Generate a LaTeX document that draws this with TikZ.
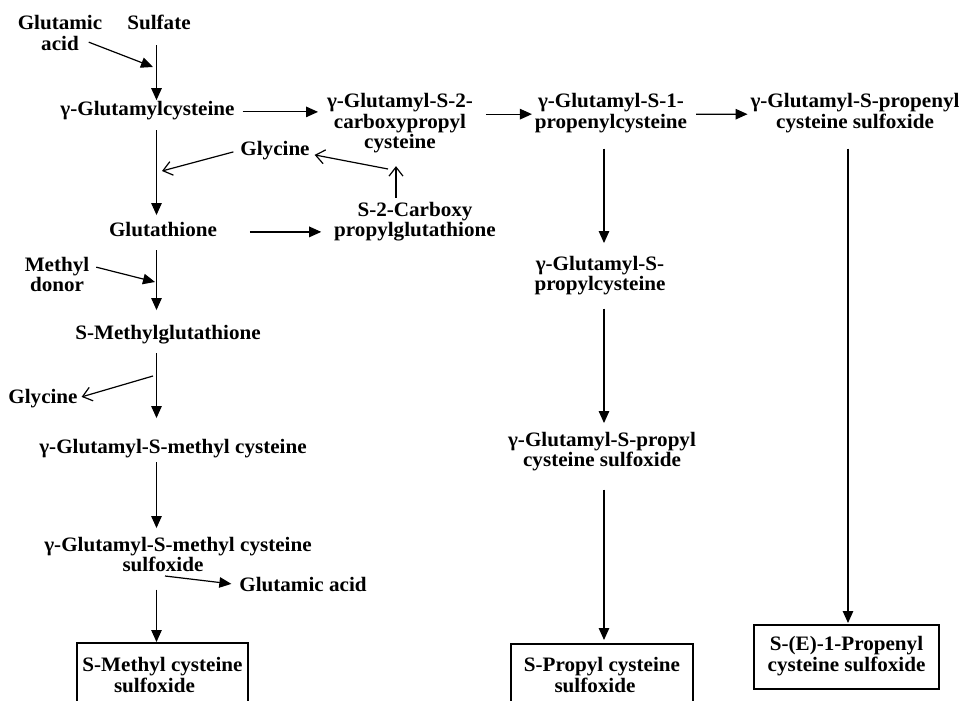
\documentclass[tikz,border=0pt]{standalone}
\usepackage{fontspec}
\setmainfont{Liberation Serif}[FakeStretch=1.03]
\usetikzlibrary{arrows.meta}
% stacked, centred lines whose baseline is that of the first line
\newcommand\mlines[1]{\begin{tabular}[t]{@{}c@{}}#1\end{tabular}}

\begin{document}
\begin{tikzpicture}[x=1bp,y=-1bp,
  lbl/.style={inner sep=0pt, outer sep=0pt, anchor=base,
    font=\fontsize{20.5bp}{20.5bp}\selectfont\bfseries},
  boxn/.style={lbl, draw, line width=1.2bp, inner xsep=0pt, anchor=north},
  arr/.style={line width=1.2bp, -{Triangle[length=12bp,width=10.5bp]}},
  oarr/.style={line width=1.2bp, -{Straight Barb[length=9bp,width=14bp]}}]

\useasboundingbox (0,0) rectangle (965,701);
\fill[white] (0,0) rectangle (965,701);

\begin{scope}
\clip (0,0) rectangle (965,701);

% column lines and junction points on the reaction arrows
\coordinate (xL) at (156.5,0);
\coordinate (xC) at (396,0);
\coordinate (xM) at (604,0);
\coordinate (xR) at (848,0);
\coordinate (j1) at (153,67);
\coordinate (j2) at (162,171);
\coordinate (j3) at (388,169);
\coordinate (j4) at (155,282);
\coordinate (j5) at (153,376);
\coordinate (j6) at (165,576);

% metabolites
\node[lbl] (glu1) at (60,30)    {\mlines{Glutamic\\acid}};
\node[lbl] (sulf) at (159,30)   {\mlines{Sulfate}};
\node[lbl] (gcys) at (147.5,116) {\mlines{γ-Glutamylcysteine}};
\node[lbl] (gcp)  at (400,108)  {\mlines{γ-Glutamyl-S-2-\\carboxypropyl\\cysteine}};
\node[lbl] (gpc)  at (611,108)  {\mlines{γ-Glutamyl-S-1-\\propenylcysteine}};
\node[lbl] (gpso) at (855,108)  {\mlines{γ-Glutamyl-S-propenyl\\cysteine sulfoxide}};
\node[lbl] (gly1) at (275,156)  {\mlines{Glycine}};
\node[lbl] (gsh)  at (163,236)  {\mlines{Glutathione}};
\node[lbl] (cpg)  at (415,216)  {\mlines{S-2-Carboxy\\propylglutathione}};
\node[lbl] (gppc) at (600,270)  {\mlines{γ-Glutamyl-S-\\propylcysteine}};
\node[lbl] (md)   at (57,271)   {\mlines{Methyl\\donor}};
\node[lbl] (smg)  at (168,339)  {\mlines{S-Methylglutathione}};
\node[lbl] (gly2) at (43,403)   {\mlines{Glycine}};
\node[lbl] (gpso2) at (602,446) {\mlines{γ-Glutamyl-S-propyl\\cysteine sulfoxide}};
\node[lbl] (gmc)  at (173,453)  {\mlines{γ-Glutamyl-S-methyl cysteine}};
\node[lbl] (gmcs) at (178,551)  {\mlines{γ-Glutamyl-S-methyl cysteine\\sulfoxide\hspace*{30bp}}};
\node[lbl] (glu2) at (303,591)  {\mlines{Glutamic acid}};

% end products
\node[boxn, minimum width=171bp, inner ysep=14.5bp] (box1) at (162.5,643)
  {\mlines{S-Methyl cysteine\\sulfoxide\hspace*{16bp}}};
\node[boxn, minimum width=182bp, inner ysep=13.5bp] (box2) at (602,644)
  {\mlines{S-Propyl cysteine\\sulfoxide\hspace*{14bp}}};
\node[boxn, anchor=center, minimum width=185bp, minimum height=64bp, inner ysep=0pt]
  (box3) at (846.5,657) {\mlines{S-(E)-1-Propenyl\\cysteine sulfoxide}};

% left branch
\draw[arr, shorten <=9bp, shorten >=1.5bp] (sulf.south -| xL) -- (gcys.north -| xL);
\draw[arr] ([xshift=-13.5bp,yshift=-6bp]glu1.east) -- (j1);
\draw[arr, shorten <=8bp, shorten >=6.6bp] (gcys.south -| xL) -- (gsh.north -| xL);
\draw[oarr] ([xshift=-7bp]gly1.west) -- (j2);
\draw[arr, shorten <=8bp, shorten >=14.6bp] (gsh.south -| xL) -- (smg.north -| xL);
\draw[arr] ([xshift=7bp,yshift=10bp]md.east) -- (j4);
\draw[arr, shorten <=8bp, shorten >=20.6bp] (smg.south -| xL) -- (gmc.north -| xL);
\draw[oarr] (j5) -- ([xshift=4bp,yshift=2bp]gly2.east);
\draw[arr, shorten <=3bp, shorten >=8.6bp] (gmc.south -| xL) -- (gmcs.north -| xL);
\draw[arr] (j6) -- ([xshift=-8bp,yshift=3bp]glu2.west);
\draw[arr, shorten <=12bp, shorten >=1bp] (gmcs.south -| xL) -- (box1.north -| xL);

% carboxypropyl side route
\draw[arr, shorten <=8bp, shorten >=9bp] (gcys.east) -- (gcys.east -| gcp.west);
\draw[arr, shorten <=33bp, shorten >=13bp] (gsh.east) -- (gsh.east -| cpg.west);
\draw[oarr, shorten <=4bp, shorten >=11bp] (cpg.north -| xC) -- (gcp.south -| xC);
\draw[oarr] (j3) -- ([xshift=5bp,yshift=-3bp]gly1.east);

% propyl and propenyl branches
\draw[arr, shorten <=13bp, shorten >=3bp] (gcp.east |- gpc.west) -- (gpc.west);
\draw[arr, shorten <=9bp, shorten >=3bp] (gpc.east) -- (gpso.west);
\draw[arr, shorten <=14bp, shorten >=12.6bp] (gpc.south -| xM) -- (gppc.north -| xM);
\draw[arr, shorten <=12bp, shorten >=8.6bp] (gppc.south -| xM) -- (gpso2.north -| xM);
\draw[arr, shorten <=17bp, shorten >=4bp] (gpso2.south -| xM) -- (box2.north -| xM);
\draw[arr, shorten <=14bp, shorten >=2bp] (gpso.south -| xR) -- (box3.north -| xR);
\end{scope}
\end{tikzpicture}
\end{document}
